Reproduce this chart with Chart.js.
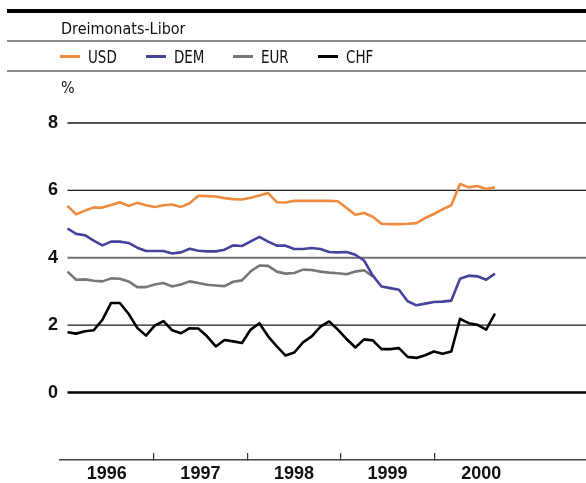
<!DOCTYPE html>
<html>
<head>
<meta charset="utf-8">
<title>Dreimonats-Libor</title>
<script src="https://cdn.jsdelivr.net/npm/chart.js@4.4.0/dist/chart.umd.min.js"></script>
<style>
	html,body{margin:0;padding:0;background:#fff;}
	#wrap{position:relative;width:586px;height:483px;overflow:hidden;font-family:'DejaVu Sans Condensed','Liberation Sans Narrow',sans-serif;color:#111;}
	#chart{position:absolute;left:0;top:0;}
	.rule{position:absolute;left:7px;right:0;}
	#rule-top{top:9px;height:4px;background:#000;}
	#rule-1{top:40px;height:2px;background:#8a8a8a;}
	#rule-2{top:70px;height:2px;background:#8a8a8a;}
	#title{position:absolute;left:61px;top:19px;font-size:16px;}
	#legend{position:absolute;left:60px;top:46px;display:flex;gap:29px;}
	.item{display:flex;align-items:center;font-size:18px;white-space:nowrap;}
	.swatch{flex:none;width:20px;height:3px;margin-right:8px;}
	.txt{display:inline-block;transform:scaleX(0.83);transform-origin:left center;}
	#unit{position:absolute;left:61px;top:78px;font-size:16px;}
</style>
</head>
<body>
<div id="wrap">
	<canvas id="chart" width="586" height="483"></canvas>
	<div class="rule" id="rule-top"></div>
	<div id="title">Dreimonats-Libor</div>
	<div class="rule" id="rule-1"></div>
	<div id="legend"></div>
	<div class="rule" id="rule-2"></div>
	<div id="unit">%</div>
</div>
<script>
(function(){
	// series names and colours
	const seriesNames = ['USD','DEM','EUR','CHF'];
	const seriesColors = ['#ef8b3c','#45429c','#777777','#000000'];

	// values, one per step (50 steps)
	const usd = [5.54,5.29,5.40,5.49,5.49,5.57,5.65,5.54,5.63,5.56,
		5.51,5.56,5.58,5.51,5.62,5.84,5.83,5.82,5.77,5.74,
		5.73,5.78,5.85,5.92,5.65,5.64,5.69,5.69,5.69,5.69,
		5.69,5.68,5.48,5.28,5.33,5.22,5.01,5.00,5.00,5.01,
		5.03,5.18,5.30,5.44,5.56,6.19,6.09,6.13,6.04,6.09];
	const dem = [4.87,4.71,4.67,4.51,4.37,4.48,4.48,4.44,4.30,4.20,
		4.20,4.20,4.13,4.16,4.27,4.21,4.19,4.19,4.24,4.37,
		4.35,4.49,4.62,4.48,4.36,4.36,4.26,4.26,4.29,4.26,
		4.17,4.16,4.17,4.09,3.92,3.47,3.15,3.10,3.05,2.71,
		2.59,2.64,2.69,2.70,2.73,3.38,3.47,3.45,3.35,3.53];
	const eur = [3.59,3.35,3.36,3.32,3.30,3.39,3.38,3.30,3.13,3.13,
		3.21,3.25,3.15,3.21,3.30,3.25,3.20,3.18,3.16,3.29,
		3.33,3.60,3.77,3.76,3.59,3.53,3.55,3.65,3.64,3.59,
		3.56,3.54,3.51,3.59,3.63,3.45,null,null,null,null,
		null,null,null,null,null,null,null,null,null,null];
	const chf = [1.79,1.75,1.82,1.85,2.16,2.66,2.66,2.34,1.92,1.69,
		1.99,2.12,1.85,1.76,1.91,1.90,1.67,1.37,1.56,1.52,
		1.47,1.87,2.06,1.67,1.37,1.10,1.19,1.49,1.67,1.96,
		2.11,1.87,1.59,1.34,1.58,1.55,1.29,1.29,1.32,1.06,
		1.03,1.11,1.22,1.15,1.22,2.19,2.06,2.01,1.87,2.34];

	// axis
	const yearLabels = ['1996','1997','1998','1999','2000'];
	const yMin = -2, yMax = 8, yStep = 2;

	// x position of the series in year units
	const firstX = 1996.08;
	const stepX = 0.0932;
	const xMin = 1996, xMax = 2001.62;

	const TICK_FONT = "'Liberation Sans','Arimo',sans-serif";

	function toPoints(values){
		return values.map((v,i) => ({ x: firstX + i*stepX, y: v }));
	}

	const allValues = [usd, dem, eur, chf];
	const datasets = allValues.map((vals, k) => ({
		label: seriesNames[k],
		data: toPoints(vals),
		borderColor: seriesColors[k],
		backgroundColor: seriesColors[k],
		borderWidth: 2.6,
		borderJoinStyle: 'round',
		pointRadius: 0,
		tension: 0,
		spanGaps: false
	}));

	// horizontal rules from the first data point to the right edge
	const hGrid = {
		id: 'hGrid',
		beforeDatasetsDraw(chart){
			const {ctx, chartArea, scales} = chart;
			const x = scales.x, y = scales.y;
			const left = x.getPixelForValue(firstX);
			ctx.save();
			y.ticks.forEach(t => {
				if(t.value < 0) return;
				const py = y.getPixelForValue(t.value);
				ctx.beginPath();
				if(t.value === 0){ ctx.lineWidth = 2.5; ctx.strokeStyle = '#000'; }
				else if(t.value === 4){ ctx.lineWidth = 2; ctx.strokeStyle = '#707070'; }
				else { ctx.lineWidth = 1.3; ctx.strokeStyle = '#1a1a1a'; }
				ctx.moveTo(left, py);
				ctx.lineTo(chartArea.right, py);
				ctx.stroke();
			});
			ctx.restore();
		}
	};

	const chart = new Chart(document.getElementById('chart').getContext('2d'), {
		type: 'line',
		data: { datasets: datasets },
		options: {
			responsive: false,
			animation: false,
			devicePixelRatio: 1,
			layout: { padding: { top: 123, left: 0, right: 0, bottom: 0 } },
			plugins: { legend: { display: false }, tooltip: { enabled: false } },
			scales: {
				x: {
					type: 'linear',
					min: xMin,
					max: xMax,
					afterBuildTicks: (scale) => {
						scale.ticks = yearLabels.map(l => ({ value: Number(l) + 0.5 }));
					},
					afterFit: (scale) => { scale.height = 23; },
					border: { display: true, color: '#444', width: 1.6 },
					grid: {
						offset: true,
						drawOnChartArea: false,
						drawTicks: true,
						tickLength: -7,
						lineWidth: 1.2,
						color: (ctx) => (ctx.index > 0 && ctx.index < yearLabels.length) ? '#333' : 'rgba(0,0,0,0)'
					},
					ticks: {
						autoSkip: false,
						maxRotation: 0,
						padding: 10,
						color: '#111',
						font: { family: TICK_FONT, size: 18, weight: 'bold' },
						callback: (v) => String(Math.floor(v))
					}
				},
				y: {
					min: yMin,
					max: yMax,
					afterFit: (scale) => { scale.width = 60; },
					border: { display: false },
					grid: { display: false, drawTicks: false },
					ticks: {
						stepSize: yStep,
						padding: 2,
						color: '#111',
						font: { family: TICK_FONT, size: 18, weight: 'bold' },
						callback: (v) => v < 0 ? '' : String(v)
					}
				}
			}
		},
		plugins: [hGrid]
	});

	// legend built from the datasets
	const legend = document.getElementById('legend');
	chart.data.datasets.forEach(ds => {
		const item = document.createElement('div'); item.className = 'item';
		const sw = document.createElement('span'); sw.className = 'swatch'; sw.style.background = ds.borderColor;
		const txt = document.createElement('span'); txt.className = 'txt'; txt.textContent = ds.label;
		item.appendChild(sw); item.appendChild(txt);
		legend.appendChild(item);
		// the text is squeezed, so size the item to what is seen
		item.style.width = (28 + txt.getBoundingClientRect().width) + 'px';
	});
})();
</script>
</body>
</html>
